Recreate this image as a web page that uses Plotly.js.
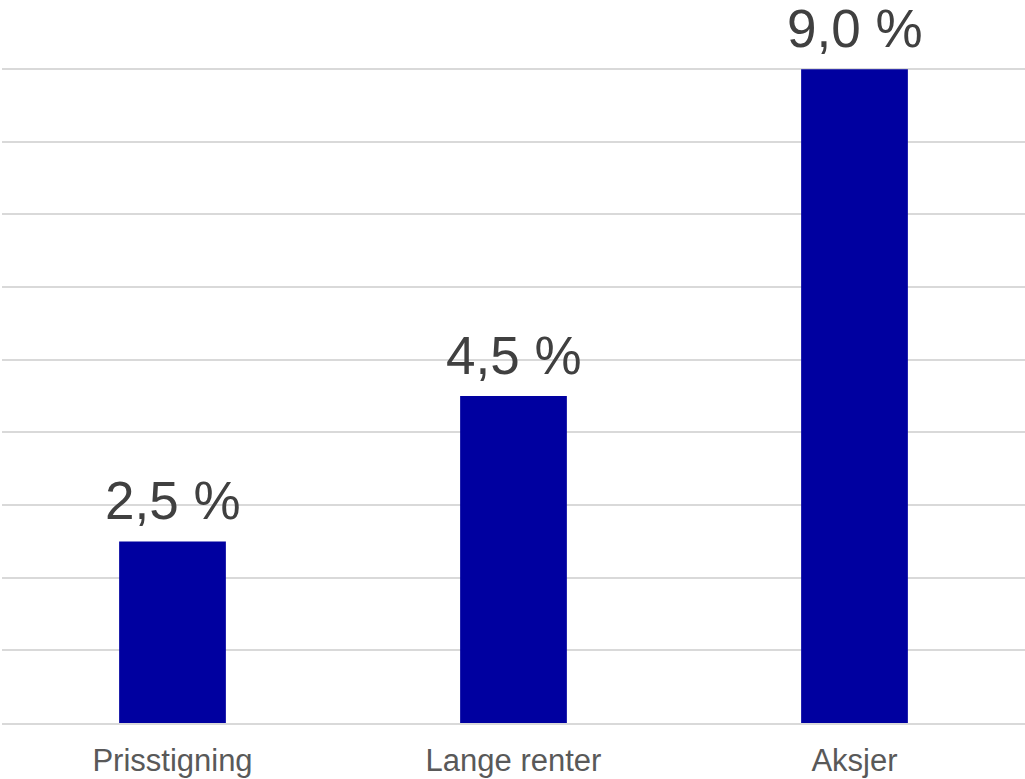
<!DOCTYPE html>
<html>
<head>
<meta charset="utf-8">
<script src="https://cdn.plot.ly/plotly-3.0.1.min.js"></script>
<style>
  html, body { margin: 0; padding: 0; background: #ffffff; }
  #chart { width: 1025px; height: 779px; }
</style>
</head>
<body>
<div id="chart"></div>
<script>
// Expected annual returns by asset type
const categories = ["Prisstigning", "Lange renter", "Aksjer"];
const values = [2.5, 4.5, 9.0];
const valueLabels = values.map(v => v.toFixed(1).replace(".", ",") + " %");

const FONT = "Liberation Sans, Arial, sans-serif";

const trace = {
  type: "bar",
  x: categories,
  y: values,
  cliponaxis: false,
  marker: { color: "#0000A0" },
  hoverinfo: "skip"
};

// Value labels above each bar
const annotations = categories.map((c, i) => ({
  x: c,
  y: values[i],
  xref: "x",
  yref: "y",
  text: valueLabels[i],
  showarrow: false,
  xanchor: "center",
  yanchor: "bottom",
  yshift: 9,
  font: { family: FONT, size: 53, color: "#404040" }
}));

const layout = {
  width: 1025,
  height: 779,
  margin: { l: 2, r: 0, t: 67, b: 56, pad: 0 },
  paper_bgcolor: "#ffffff",
  plot_bgcolor: "#ffffff",
  showlegend: false,
  bargap: 0.687,
  font: { family: FONT },
  annotations: annotations,
  xaxis: {
    type: "category",
    showgrid: false,
    showline: true,
    linecolor: "#d9d9d9",
    linewidth: 2,
    ticks: "",
    tickfont: { size: 31, color: "#595959" },
    ticklabelstandoff: 9,
    fixedrange: true
  },
  yaxis: {
    // a little headroom so the top gridline at 9 is kept
    range: [0, 9.03],
    dtick: 1,
    showgrid: true,
    gridcolor: "#d9d9d9",
    gridwidth: 2,
    zeroline: false,
    showticklabels: false,
    ticks: "",
    fixedrange: true
  }
};

Plotly.newPlot("chart", [trace], layout, { displayModeBar: false, staticPlot: true });
</script>
</body>
</html>
